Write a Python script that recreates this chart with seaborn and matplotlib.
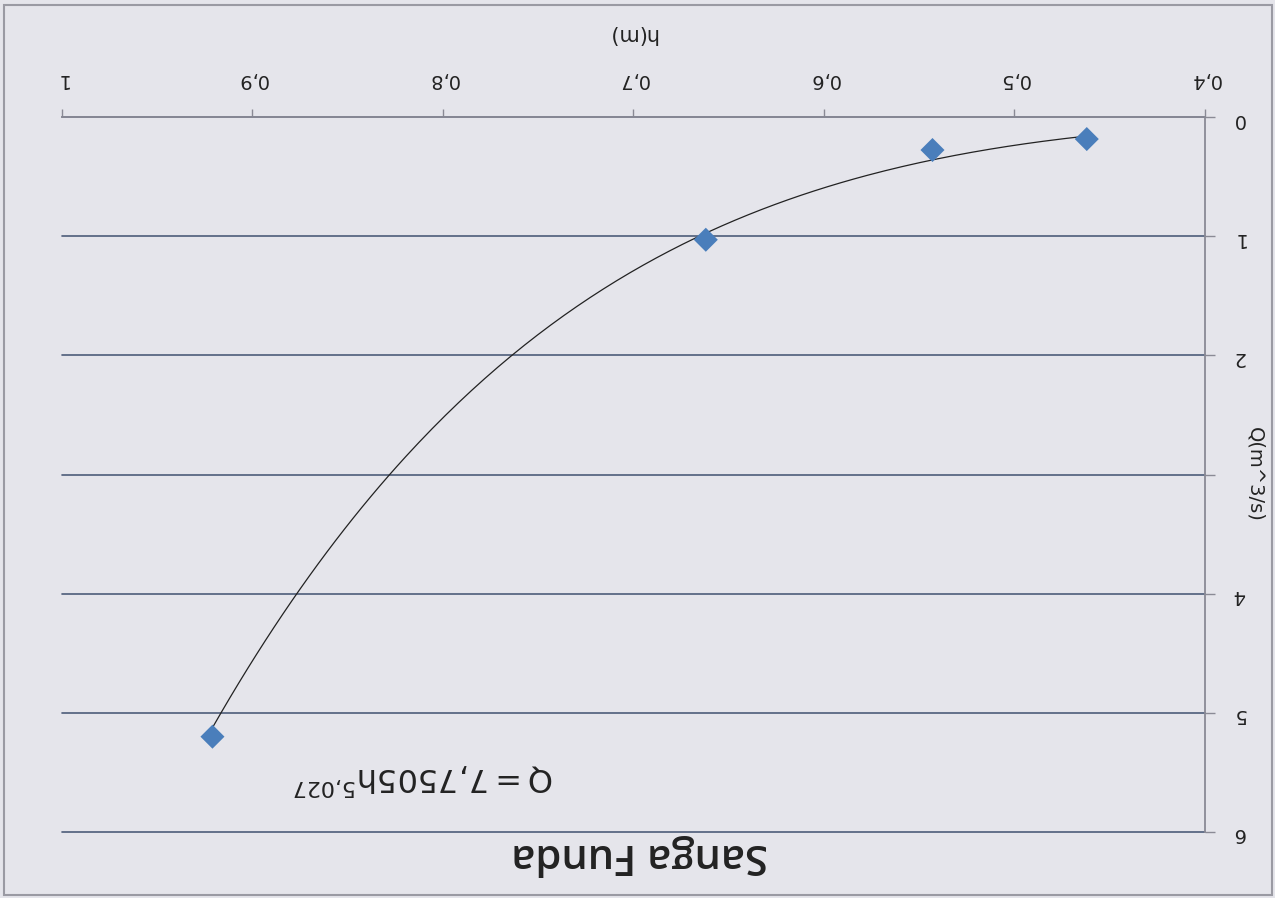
import numpy as np
import pandas as pd
import seaborn as sns
import matplotlib.pyplot as plt
from matplotlib.patches import Rectangle

# measured points (h in m, Q in m3/s)
h_values = [0.462, 0.543, 0.662, 0.921]
q_values = [0.185, 0.277, 1.03, 5.20]
# power trendline shown on the chart: Q = a * h^b
trend_coef = [7.7505, 5.027]
x_ticks = [0.4, 0.5, 0.6, 0.7, 0.8, 0.9, 1.0]
x_tick_labels = ['0,4', '0,5', '0,6', '0,7', '0,8', '0,9', '1']
y_ticks = [0, 1, 2, 3, 4, 5, 6]
y_tick_labels = ['0', '1', '2', '', '4', '5', '6']  # "3" is hidden under the axis title

sns.set_style('white')
plt.rcParams['font.family'] = ['DejaVu Sans']

bg = '#e5e5eb'
fig = plt.figure(figsize=(12.75, 8.98), dpi=100, facecolor=bg)
ax = fig.add_axes([0.0486, 0.0735, 0.8964, 0.7962])
ax.set_facecolor(bg)

df = pd.DataFrame({'h': h_values, 'Q': q_values})
h_fit = np.linspace(min(h_values), max(h_values), 200)
fit = pd.DataFrame({'h': h_fit, 'Q': trend_coef[0] * h_fit ** trend_coef[1]})

sns.lineplot(data=fit, x='h', y='Q', color='#222222', linewidth=0.9, ax=ax, zorder=3)
sns.scatterplot(data=df, x='h', y='Q', marker='D', s=150, color='#4a7ebb',
                edgecolor='none', linewidth=0, ax=ax, zorder=4)

# the chart is upside down: both axes reversed, text turned 180 degrees
ax.set_xlim(1.0, 0.4)
ax.set_ylim(6, 0)
ax.xaxis.tick_top()
ax.yaxis.tick_right()
ax.set_xticks(x_ticks)
ax.set_xticklabels(x_tick_labels, rotation=180)
ax.set_yticks(y_ticks)
ax.set_yticklabels(y_tick_labels, rotation=180)
ax.tick_params(axis='x', direction='out', length=6, width=1, color='#8a8a95',
               pad=14, labelsize=14, labelcolor='#222222')
ax.tick_params(axis='y', direction='out', length=7, width=1, color='#8a8a95',
               pad=13, labelsize=14, labelcolor='#222222')
ax.set_xlabel('')
ax.set_ylabel('')

ax.yaxis.grid(True, color='#4d5d7a', linewidth=1.2)
ax.xaxis.grid(False)
ax.set_axisbelow(True)
for gl in ax.get_ygridlines():
    gl.set_clip_on(False)

for side in ['left', 'bottom']:
    ax.spines[side].set_visible(False)
for side in ['top', 'right']:
    ax.spines[side].set_color('#8a8a95')
    ax.spines[side].set_linewidth(1.3)

fig.text(0.496, 0.962, 'h(m)', rotation=180, ha='center', va='center',
         fontsize=15, color='#222222')
fig.text(0.984, 0.472, 'Q(m^3/s)', rotation=270, ha='center', va='center',
         fontsize=14, color='#222222')
fig.text(0.502, 0.048, 'Sanga Funda', rotation=180, ha='center', va='center',
         fontsize=30, fontweight='semibold', family=['Open Sans', 'DejaVu Sans'],
         color='#222222')
fig.text(0.332, 0.133, r'$\mathregular{Q=7{,}7505h^{5{,}027}}$', rotation=180,
         ha='center', va='center', fontsize=23, color='#222222')

fig.patches.append(Rectangle((0.003, 0.003), 0.995, 0.991, transform=fig.transFigure,
                             fill=False, edgecolor='#9a9aa3', linewidth=1.5))

fig.savefig('out.png', dpi=100, facecolor=bg)
